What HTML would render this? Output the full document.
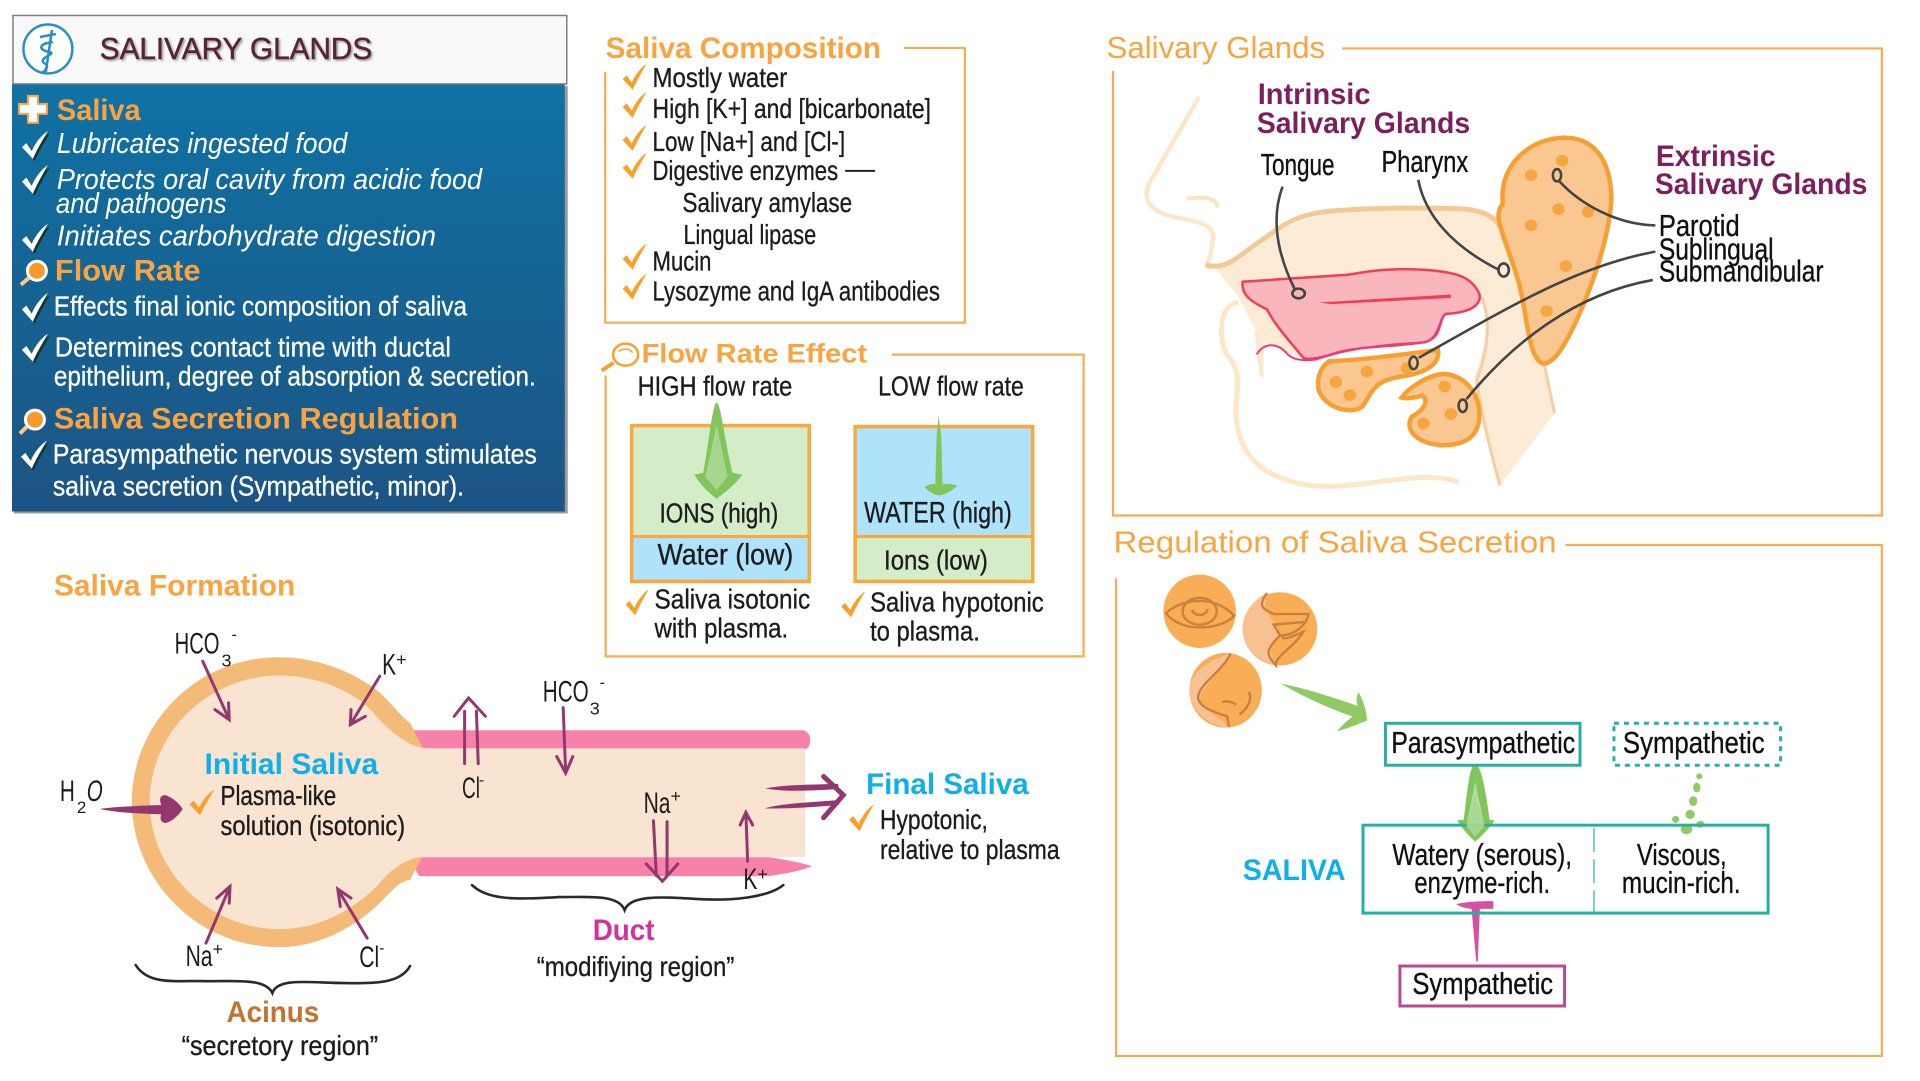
<!DOCTYPE html>
<html><head><meta charset="utf-8"><title>Salivary Glands</title>
<style>
html,body{margin:0;padding:0;background:#fff;width:1920px;height:1081px;overflow:hidden}
svg{display:block}
text{font-family:"Liberation Sans",sans-serif}
.k{fill:#1c1c1c;font-size:28px;stroke:#1c1c1c;stroke-width:.35}
.t{fill:#111;font-size:31px;stroke:#111;stroke-width:.35}
.w{fill:#fff;font-size:28px;stroke:#fff;stroke-width:.3}
.wi{fill:#fff;font-size:29px;font-style:italic}
.o{fill:#faa441;font-size:30px;font-weight:bold}
.c{fill:#0fb0ea;font-size:30px;font-weight:bold}
.p{fill:#7d1f5e;font-size:30px;font-weight:bold}
.n *{vector-effect:non-scaling-stroke}
.b{fill:none;stroke:#fbab4f;stroke-width:2.2}
</style></head><body>
<svg width="1920" height="1081" viewBox="0 0 1920 1081" xmlns="http://www.w3.org/2000/svg">
<defs>
<linearGradient id="bg" x1="0" y1="0" x2="0" y2="1"><stop offset="0" stop-color="#0f72a3"/><stop offset="1" stop-color="#1c5484"/></linearGradient>
<filter id="sh" x="-5%" y="-20%" width="110%" height="150%"><feDropShadow dx="1.5" dy="1.5" stdDeviation="1" flood-color="#999"/></filter>
<path id="ck" d="M0 .58L.17 .44L.38 .72C.5 .45 .75 .15 1 0C.82 .3 .6 .62 .42 1Z"/>
</defs>
<g transform="scale(.9978,.999)">

<!-- HEADER PANEL -->
<rect x="14" y="86" width="555" height="428" fill="#9a9a9a"/>
<rect x="12" y="84" width="554" height="428" fill="url(#bg)"/>
<rect x="13" y="15.5" width="555" height="68.5" fill="#f9f9f9" stroke="#7d7d7d" stroke-width="1.5"/>
<circle cx="48" cy="49" r="24.5" fill="#fff" stroke="#2a8fc0" stroke-width="2.5"/>
<path d="M52 30L46 72M40 37L56 34" stroke="#2a8fc0" stroke-width="2.5" fill="none"/>
<path d="M53 42C36 44 40 51 50 52C57 54 38 58 44 63C50 66 46 70 42 73" stroke="#2a8fc0" stroke-width="2.5" fill="none"/>
<text x="100" y="59" font-size="31" fill="#5a2338" stroke="#5a2338" stroke-width=".5" filter="url(#sh)" textLength="273" lengthAdjust="spacingAndGlyphs">SALIVARY GLANDS</text>

<path d="M28 96H38V104H47V114H38V123H28V114H19V104H28Z" fill="#fff" stroke="#faa441" stroke-width="2"/>
<text class="o" x="57" y="120" textLength="84" lengthAdjust="spacingAndGlyphs">Saliva</text>
<text class="wi" x="57" y="153" textLength="291" lengthAdjust="spacingAndGlyphs">Lubricates ingested food</text>
<text class="wi" x="57" y="189" textLength="426" lengthAdjust="spacingAndGlyphs">Protects oral cavity from acidic food</text>
<text class="wi" x="56" y="213" textLength="171" lengthAdjust="spacingAndGlyphs">and pathogens</text>
<text class="wi" x="57" y="246" textLength="380" lengthAdjust="spacingAndGlyphs">Initiates carbohydrate digestion</text>
<text class="o" x="55" y="281" textLength="146" lengthAdjust="spacingAndGlyphs">Flow Rate</text>
<text class="w" x="54" y="316" textLength="414" lengthAdjust="spacingAndGlyphs">Effects final ionic composition of saliva</text>
<text class="w" x="55" y="357" textLength="397" lengthAdjust="spacingAndGlyphs">Determines contact time with ductal</text>
<text class="w" x="54" y="386" textLength="483" lengthAdjust="spacingAndGlyphs">epithelium, degree of absorption &amp; secretion.</text>
<text class="o" x="54" y="429" textLength="405" lengthAdjust="spacingAndGlyphs">Saliva Secretion Regulation</text>
<text class="w" x="53" y="464" textLength="485" lengthAdjust="spacingAndGlyphs">Parasympathetic nervous system stimulates</text>
<text class="w" x="53" y="496" textLength="412" lengthAdjust="spacingAndGlyphs">saliva secretion (Sympathetic, minor).</text>
<!-- white checks -->
<g fill="#12382f"><use href="#ck" transform="translate(24,133) scale(26,28)"/><use href="#ck" transform="translate(24,167) scale(26,29)"/><use href="#ck" transform="translate(24,226) scale(26,28)"/><use href="#ck" transform="translate(24,295) scale(26,29)"/><use href="#ck" transform="translate(24,336) scale(26,28)"/><use href="#ck" transform="translate(23,443) scale(26,28)"/></g>
<g fill="#fff"><use href="#ck" transform="translate(22,131) scale(26,28)"/><use href="#ck" transform="translate(22,165) scale(26,29)"/><use href="#ck" transform="translate(22,224) scale(26,28)"/><use href="#ck" transform="translate(22,293) scale(26,29)"/><use href="#ck" transform="translate(22,334) scale(26,28)"/><use href="#ck" transform="translate(21,441) scale(26,28)"/></g>
<!-- magnifiers -->
<g stroke="#fff" fill="#f79a2b" stroke-width="3"><circle cx="37" cy="271" r="9.5"/><path d="M29 278L21 285" stroke-width="4" stroke="#fbc98c"/><circle cx="35" cy="420" r="9.5"/><path d="M27 427L20 434" stroke-width="4" stroke="#fbc98c"/></g>

<g transform="translate(1,0)">
<!-- SALIVA COMPOSITION -->
<text class="o" x="606" y="58" textLength="276" lengthAdjust="spacingAndGlyphs">Saliva Composition</text>
<path class="b" d="M905 48H966V323H605.5V72"/>
<text class="k" x="653" y="87" textLength="135" lengthAdjust="spacingAndGlyphs">Mostly water</text>
<text class="k" x="653" y="118" textLength="279" lengthAdjust="spacingAndGlyphs">High [K+] and [bicarbonate]</text>
<text class="k" x="653" y="151" textLength="193" lengthAdjust="spacingAndGlyphs">Low [Na+] and [Cl-]</text>
<text class="k" x="653" y="180" textLength="186" lengthAdjust="spacingAndGlyphs">Digestive enzymes</text>
<path d="M846 171H876" stroke="#222" stroke-width="2"/>
<text class="k" x="683" y="212" textLength="170" lengthAdjust="spacingAndGlyphs">Salivary amylase</text>
<text class="k" x="684" y="244" textLength="133" lengthAdjust="spacingAndGlyphs">Lingual lipase</text>
<text class="k" x="653" y="271" textLength="59" lengthAdjust="spacingAndGlyphs">Mucin</text>
<text class="k" x="653" y="301" textLength="288" lengthAdjust="spacingAndGlyphs">Lysozyme and IgA antibodies</text>
<g fill="#f99f2a"><use href="#ck" transform="translate(623,64) scale(24,26)"/><use href="#ck" transform="translate(623,92) scale(24,26)"/><use href="#ck" transform="translate(623,125) scale(24,26)"/><use href="#ck" transform="translate(623,153) scale(24,26)"/><use href="#ck" transform="translate(623,244) scale(24,26)"/><use href="#ck" transform="translate(623,274) scale(24,26)"/></g>

<!-- FLOW RATE EFFECT -->
<text class="o" x="642" y="363" style="font-size:27px" textLength="226" lengthAdjust="spacingAndGlyphs">Flow Rate Effect</text>
<path class="b" d="M893 355H1085V657H606V376"/>
<ellipse cx="626" cy="355" rx="12.5" ry="11" fill="#fff" stroke="#f79f30" stroke-width="2.5"/>
<path d="M614 363L602 371" stroke="#f79f30" stroke-width="4"/>
<path d="M619 352C624 348 630 349 633 353" fill="none" stroke="#f79f30" stroke-width="1.5"/>
<text class="k" x="638" y="396" textLength="155" lengthAdjust="spacingAndGlyphs">HIGH flow rate</text>
<text class="k" x="879" y="396" textLength="146" lengthAdjust="spacingAndGlyphs">LOW flow rate</text>

<rect x="632" y="426" width="178" height="110" fill="#d5ecc8"/>
<rect x="632" y="536" width="178" height="46" fill="#aee3fb"/>
<rect x="632" y="426" width="178" height="156" fill="none" stroke="#f9a73e" stroke-width="3.5"/>
<path d="M632 537H810" stroke="#f9a73e" stroke-width="3"/>
<rect x="856" y="427" width="178" height="109" fill="#aee3fb"/>
<rect x="856" y="536" width="178" height="46" fill="#d5ecc8"/>
<rect x="856" y="427" width="178" height="155" fill="none" stroke="#f9a73e" stroke-width="3.5"/>
<path d="M856 537H1034" stroke="#f9a73e" stroke-width="3"/>
<g transform="translate(600,0) scale(.333,.436)">
<path d="M352 925C365 925 375 1010 400 1085L430 1090C410 1110 380 1130 352 1145C325 1130 300 1110 285 1090L312 1085C330 1010 340 925 352 925Z" fill="#82c55c"/>
<path d="M352 975L385 1095L352 1125L318 1095Z" fill="#a7d68e"/>
<path d="M1020 955L1028 1000L1032 1112C1045 1110 1065 1112 1077 1115C1060 1128 1040 1135 1020 1138C1005 1135 990 1128 977 1118C990 1112 1005 1110 1010 1112L1014 1000Z" fill="#82c55c"/>
</g>
<text class="k" x="660" y="523" textLength="119" lengthAdjust="spacingAndGlyphs">IONS (high)</text>
<text class="k" x="658" y="565" style="font-size:30px" textLength="136" lengthAdjust="spacingAndGlyphs">Water (low)</text>
<text class="k" x="865" y="523" style="font-size:30px" textLength="148" lengthAdjust="spacingAndGlyphs">WATER (high)</text>
<text class="k" x="885" y="570" textLength="104" lengthAdjust="spacingAndGlyphs">Ions (low)</text>
<text class="k" x="655" y="609" textLength="156" lengthAdjust="spacingAndGlyphs">Saliva isotonic</text>
<text class="k" x="655" y="638" textLength="134" lengthAdjust="spacingAndGlyphs">with plasma.</text>
<text class="k" x="871" y="612" textLength="174" lengthAdjust="spacingAndGlyphs">Saliva hypotonic</text>
<text class="k" x="871" y="641" textLength="110" lengthAdjust="spacingAndGlyphs">to plasma.</text>
<g fill="#f99f2a"><use href="#ck" transform="translate(626,590) scale(23,26)"/><use href="#ck" transform="translate(842,592) scale(24,26)"/></g>
</g>

<!-- SALIVARY GLANDS ANATOMY -->
<text class="o" x="1109" y="58" style="font-weight:normal;font-size:31px" textLength="219" lengthAdjust="spacingAndGlyphs">Salivary Glands</text>
<path class="b" d="M1345 48.5H1886V516H1115.5V71"/>
<g transform="translate(1.5,0)">
<g transform="translate(1110,0) scale(.519,.346)" class="n">
<path d="M205 775C250 770 270 730 310 690C350 640 400 620 480 608C560 600 650 600 690 605C730 612 750 640 760 680L800 860L840 1050L860 1195L755 1405L715 1200L705 1090C730 1000 735 920 715 860L640 900L380 1040L345 1020L300 990L297 1090L285 960L250 860Z" fill="#fdebd6"/>
<path d="M172 285C140 370 100 470 78 530C60 590 90 620 140 632C190 645 205 660 200 700C198 730 192 750 190 768" fill="none" stroke="#fde7c9" stroke-width="4.5" stroke-linecap="round"/>
<path d="M150 575C175 570 205 565 210 600" fill="none" stroke="#fde3c0" stroke-width="4"/>
<path d="M190 768C230 780 250 740 290 700C330 660 350 625 420 612C500 600 620 600 690 605C730 612 748 635 755 655" fill="none" stroke="#f3c997" stroke-width="5" stroke-linecap="round"/>
<path d="M250 875C215 880 210 960 225 1020C260 1080 245 1120 245 1200C250 1300 280 1370 370 1400C470 1430 600 1350 675 1395" fill="none" stroke="#fde7c9" stroke-width="5"/>
<path d="M285 960L295 1090" fill="none" stroke="#fde7c9" stroke-width="4"/>
<path d="M720 860C735 920 735 1000 710 1100C720 1200 735 1300 755 1405M840 1050L860 1195" fill="none" stroke="#f3cfa3" stroke-width="3"/>
<path d="M258 815L460 795C500 785 540 775 600 780C670 785 700 800 715 850C720 880 700 905 650 908C635 925 645 975 610 990C540 1005 480 1000 430 1025C400 1040 380 1040 375 1035C345 980 320 940 305 895C270 870 255 850 258 815Z" fill="#fab6bd" stroke="#ee3f55" stroke-width="2.5"/>
<path d="M405 875L660 852V862L430 880Z" fill="#ee3f55"/>
<path d="M285 1025C300 990 325 990 345 1025C355 1040 375 1045 400 1040C430 1025 480 1000 610 990C640 975 635 925 650 908" fill="none" stroke="#e83e7e" stroke-width="2"/>
<path d="M760 580C755 480 810 400 880 398C950 400 970 490 970 580C965 680 940 800 905 920C880 1000 860 1050 840 1052C815 1045 810 960 800 880C790 780 760 700 752 630C752 610 755 600 760 590Z" fill="#f9c78f" stroke="#f6a033" stroke-width="4.5"/>
<path d="M425 1045C500 1040 570 1025 635 1012C640 1050 615 1080 560 1090C510 1105 510 1130 490 1175C470 1200 420 1185 405 1130C400 1090 410 1060 425 1045Z" fill="#f9c78f" stroke="#f6a033" stroke-width="4.5"/>
<path d="M565 1150C580 1120 620 1080 650 1082C690 1090 715 1140 715 1200C715 1260 690 1290 640 1288C590 1280 570 1240 585 1205C605 1190 620 1160 605 1145C590 1150 575 1155 565 1150Z" fill="#f9c78f" stroke="#f6a033" stroke-width="4.5"/>
<g fill="#f6a641"><ellipse cx="875" cy="465" rx="12" ry="17"/><ellipse cx="815" cy="507" rx="12" ry="17"/><ellipse cx="868" cy="605" rx="12" ry="17"/><ellipse cx="925" cy="613" rx="12" ry="17"/><ellipse cx="815" cy="652" rx="12" ry="17"/><ellipse cx="882" cy="770" rx="12" ry="17"/><ellipse cx="845" cy="900" rx="12" ry="17"/><ellipse cx="438" cy="1105" rx="12" ry="17"/><ellipse cx="498" cy="1075" rx="12" ry="17"/><ellipse cx="465" cy="1143" rx="12" ry="17"/><ellipse cx="575" cy="1065" rx="12" ry="17"/><ellipse cx="648" cy="1118" rx="12" ry="17"/><ellipse cx="660" cy="1198" rx="12" ry="17"/><ellipse cx="607" cy="1225" rx="12" ry="17"/></g>
<g fill="none" stroke="#444" stroke-width="2.6">
<path d="M335 540C315 620 320 720 358 835"/><ellipse cx="366" cy="849" rx="12" ry="14"/>
<path d="M597 520C610 620 660 710 752 780"/><ellipse cx="762" cy="781" rx="10" ry="19"/>
<path d="M1055 652C980 650 910 590 870 525"/><ellipse cx="865" cy="507" rx="8" ry="18"/>
<path d="M1055 728C900 770 760 900 598 1035"/><ellipse cx="588" cy="1050" rx="8" ry="18"/>
<path d="M1050 810C900 850 780 990 690 1155"/><ellipse cx="683" cy="1174" rx="8" ry="18"/>
</g>
</g>
<text class="p" x="1259" y="104" textLength="113" lengthAdjust="spacingAndGlyphs">Intrinsic</text>
<text class="p" x="1258" y="133" textLength="214" lengthAdjust="spacingAndGlyphs">Salivary Glands</text>
<text class="p" x="1658" y="166" textLength="120" lengthAdjust="spacingAndGlyphs">Extrinsic</text>
<text class="p" x="1657" y="194" textLength="213" lengthAdjust="spacingAndGlyphs">Salivary Glands</text>
<text class="t" x="1262" y="175" textLength="74" lengthAdjust="spacingAndGlyphs">Tongue</text>
<text class="t" x="1383" y="172" textLength="87" lengthAdjust="spacingAndGlyphs">Pharynx</text>
<text class="t" x="1661" y="236" textLength="81" lengthAdjust="spacingAndGlyphs">Parotid</text>
<text class="t" x="1661" y="260" textLength="115" lengthAdjust="spacingAndGlyphs">Sublingual</text>
<text class="t" x="1661" y="282" textLength="165" lengthAdjust="spacingAndGlyphs">Submandibular</text>
</g>

<!-- REGULATION -->
<text class="o" x="1116" y="553" style="font-weight:normal;font-size:31px" textLength="444" lengthAdjust="spacingAndGlyphs">Regulation of Saliva Secretion</text>
<path class="b" d="M1569 545.5H1886V1057H1118.5V579"/>
<g transform="translate(1.5,0)">
<g transform="translate(1110,530) scale(.519,.353)" class="n">
<ellipse cx="175" cy="232" rx="70" ry="104" fill="#f9ae56"/>
<ellipse cx="330" cy="282" rx="72" ry="104" fill="#f9ae56"/>
<path d="M305 180C275 200 258 245 258 282C258 330 280 370 322 385C310 350 305 320 330 300C330 270 290 240 305 180Z" fill="#f7c192"/>
<ellipse cx="225" cy="456" rx="70" ry="106" fill="#f9ae56"/>
<path d="M235 352C190 370 155 410 155 456C155 510 190 555 228 562C225 540 190 520 175 490C175 440 225 400 235 352Z" fill="#f7c192"/>
<g fill="none" stroke="#c9813f" stroke-width="2.4">
<path d="M110 238C135 200 200 180 242 245C215 285 140 295 110 238Z"/><ellipse cx="175" cy="232" rx="33" ry="38"/><path d="M160 228C165 250 190 245 190 225"/>
<path d="M305 180C290 210 290 225 320 240L385 240C380 280 350 300 335 300C330 320 360 300 375 290C360 330 320 360 322 385C300 350 305 340 330 300L318 270L380 262"/>
<path d="M235 352C215 410 170 440 172 480C178 510 210 520 228 530L232 560M270 460C278 485 265 510 252 525M218 490C228 484 240 490 245 497"/>
</g>
<path d="M332 437C380 450 440 480 480 500C478 490 476 475 482 462C492 490 498 515 498 542C480 552 460 565 440 572C450 555 462 540 470 530C420 505 370 470 332 437Z" fill="#8fca65"/>
<path d="M707 665C720 665 730 770 735 823L745 825C735 845 720 870 707 885C695 870 680 845 672 825L685 823C690 770 695 665 707 665Z" fill="#82c55c"/>
<path d="M707 715L725 840H690Z" fill="#b5dca0"/>
<g fill="#8fca65"><ellipse cx="1140" cy="700" rx="6" ry="8"/><ellipse cx="1135" cy="732" rx="7" ry="14"/><ellipse cx="1128" cy="770" rx="8" ry="14"/><ellipse cx="1122" cy="808" rx="9" ry="13"/><ellipse cx="1115" cy="850" rx="11" ry="14"/><ellipse cx="1094" cy="822" rx="7" ry="10"/><ellipse cx="1142" cy="836" rx="8" ry="10"/></g>
<path d="M670 1062C690 1056 720 1053 742 1054V1076H716L712 1225H709L700 1076C688 1074 678 1070 670 1062Z" fill="#d94fa1"/>
</g>
<rect x="1387" y="724" width="195" height="42" fill="none" stroke="#25b0a6" stroke-width="3"/>
<rect x="1616" y="724" width="167" height="42" fill="none" stroke="#25b0a6" stroke-width="3" stroke-dasharray="5 5"/>
<rect x="1364.5" y="826" width="406" height="88" fill="none" stroke="#25b0a6" stroke-width="3"/>
<path d="M1596 829V913" stroke="#25b0a6" stroke-width="1.2" stroke-dasharray="24 7"/>
<rect x="1401.5" y="967" width="165" height="40" fill="none" stroke="#b84a94" stroke-width="3"/>
<g transform="translate(1110,530) scale(.519,.353)" class="n"><path d="M707 755L725 840L707 872L690 840Z" fill="#a9d794" opacity=".9"/></g>
<text class="t" x="1393" y="754" textLength="184" lengthAdjust="spacingAndGlyphs">Parasympathetic</text>
<text class="t" x="1625" y="754" textLength="142" lengthAdjust="spacingAndGlyphs">Sympathetic</text>
<text class="t" x="1394" y="866" textLength="180" lengthAdjust="spacingAndGlyphs">Watery (serous),</text>
<text class="t" x="1416" y="894" textLength="136" lengthAdjust="spacingAndGlyphs">enzyme-rich.</text>
<text class="t" x="1639" y="866" textLength="90" lengthAdjust="spacingAndGlyphs">Viscous,</text>
<text class="t" x="1624" y="894" textLength="119" lengthAdjust="spacingAndGlyphs">mucin-rich.</text>
<text class="t" x="1414" y="995" textLength="141" lengthAdjust="spacingAndGlyphs">Sympathetic</text>
<text class="c" x="1244" y="881" textLength="103" lengthAdjust="spacingAndGlyphs">SALIVA</text>
</g>

<!-- SALIVA FORMATION -->
<text class="o" x="54" y="596" textLength="242" lengthAdjust="spacingAndGlyphs">Saliva Formation</text>
<path d="M410 731H805Q812 733 812 741Q812 749 805 751H420Z" fill="#f781a9"/>
<path d="M410 858H770Q798 862 814 867Q800 873 770 877H420Z" fill="#f781a9"/>
<rect x="420" y="749" width="387" height="109" fill="#f8e4d0"/>
<g transform="translate(0,560) scale(.359,.334)">
<path d="M1145 490C1110 465 1085 410 1020 368C950 320 860 293 780 293C540 293 368 500 368 727C368 950 540 1162 780 1162C880 1162 980 1110 1050 1040C1090 1000 1110 965 1145 960L1180 890L1180 565Z" fill="#f4bb78"/>
<path d="M1180 565C1130 555 1085 510 1050 470C1000 400 890 348 780 348C580 348 418 520 418 727C418 930 580 1108 780 1108C900 1108 1000 1040 1060 970C1090 930 1140 890 1190 890V565Z" fill="#f8e4d0"/>
<g fill="none" stroke="#93386f" stroke-width="3" stroke-linecap="round" class="n">
<path d="M566 305L640 480M600 450L640 480L638 430"/>
<path d="M1060 350L978 495M980 450L978 495L1020 470"/>
<path d="M575 1150L642 980M605 1015L642 980L640 1030"/>
<path d="M1025 1135L943 988M980 1015L943 988L950 1040"/>
<path d="M1297 612L1297 455M1335 612L1330 455M1268 470L1308 415L1355 470"/>
</g>
<path d="M278 748C330 740 400 738 450 736C445 720 445 708 460 706C480 712 500 730 510 748C498 768 478 788 460 790C445 786 448 772 450 764C400 762 330 760 278 748Z" fill="#93386f"/>
</g>
<g transform="translate(540,670) scale(.359,.333)">
<g fill="none" stroke="#93386f" stroke-width="3" stroke-linecap="round" class="n">
<path d="M68 115L75 312M50 262L75 312L95 262"/>
<path d="M320 455L328 620M358 458L358 620M300 585L345 637L388 585"/>
<path d="M583 577L578 430M562 468L578 430L597 468"/>
</g>
<path d="M632 358C700 345 760 348 835 344L838 360C760 364 690 370 632 358Z" fill="#93386f"/>
<path d="M630 418C680 402 760 400 835 393L838 408C760 415 690 420 630 418Z" fill="#93386f"/>
<path d="M795 322L850 378L795 446" fill="none" stroke="#93386f" stroke-width="5" stroke-linecap="round" style="vector-effect:non-scaling-stroke"/>
</g>
<g fill="none" stroke="#2a2a2a" stroke-width="2.6" stroke-linecap="round">
<path d="M136 966C148 985 172 982 201 982C233 983 265 978 273 994C278 978 312 984 345 984C381 985 402 983 411 967"/>
<path d="M473 886C490 902 520 900 560 898C590 898 620 895 626 911C632 895 665 898 700 900C735 902 770 898 785 886"/>
</g>
<g fill="#1c1c1c">
<text x="175" y="654" font-size="30" textLength="45" lengthAdjust="spacingAndGlyphs">HCO</text><text x="222" y="667" font-size="18">3</text><text x="232" y="640" font-size="16">-</text>
<text x="383" y="675" font-size="30" textLength="14" lengthAdjust="spacingAndGlyphs">K</text><text x="397" y="666" font-size="18">+</text>
<text x="60" y="802" font-size="30" textLength="15" lengthAdjust="spacingAndGlyphs">H</text><text x="77" y="814" font-size="17">2</text><text x="87" y="802" font-size="30" font-style="italic" textLength="16" lengthAdjust="spacingAndGlyphs">O</text>
<text x="463" y="799" font-size="30" textLength="18" lengthAdjust="spacingAndGlyphs">Cl</text><text x="480" y="786" font-size="16">-</text>
<text x="186" y="967" font-size="30" textLength="27" lengthAdjust="spacingAndGlyphs">Na</text><text x="213" y="956" font-size="18">+</text>
<text x="360" y="968" font-size="30" textLength="20" lengthAdjust="spacingAndGlyphs">Cl</text><text x="380" y="954" font-size="16">-</text>
<text x="544" y="702" font-size="30" textLength="46" lengthAdjust="spacingAndGlyphs">HCO</text><text x="591" y="715" font-size="18">3</text><text x="601" y="688" font-size="16">-</text>
<text x="645" y="814" font-size="30" textLength="27" lengthAdjust="spacingAndGlyphs">Na</text><text x="672" y="803" font-size="18">+</text>
<text x="745" y="890" font-size="30" textLength="14" lengthAdjust="spacingAndGlyphs">K</text><text x="759" y="881" font-size="18">+</text>
</g>
<text class="c" x="205" y="775" textLength="174" lengthAdjust="spacingAndGlyphs">Initial Saliva</text>
<text class="k" x="221" y="806" textLength="116" lengthAdjust="spacingAndGlyphs">Plasma-like</text>
<text class="k" x="221" y="836" textLength="185" lengthAdjust="spacingAndGlyphs">solution (isotonic)</text>
<use href="#ck" fill="#f99f2a" transform="translate(190,790) scale(25,26)"/>
<text class="c" x="868" y="795" textLength="163" lengthAdjust="spacingAndGlyphs">Final Saliva</text>
<use href="#ck" fill="#f99f2a" transform="translate(851,805) scale(25,27)"/>
<text class="k" x="882" y="830" textLength="108" lengthAdjust="spacingAndGlyphs">Hypotonic,</text>
<text class="k" x="882" y="860" textLength="180" lengthAdjust="spacingAndGlyphs">relative to plasma</text>
<text x="227" y="1023" font-size="30" font-weight="bold" fill="#c27330" textLength="93" lengthAdjust="spacingAndGlyphs">Acinus</text>
<text class="k" x="182" y="1056" textLength="197" lengthAdjust="spacingAndGlyphs">“secretory region”</text>
<text x="594" y="941" font-size="30" font-weight="bold" fill="#d4329b" textLength="62" lengthAdjust="spacingAndGlyphs">Duct</text>
<text class="k" x="538" y="977" textLength="198" lengthAdjust="spacingAndGlyphs">“modifiying region”</text>
</g>
</svg>
</body></html>
